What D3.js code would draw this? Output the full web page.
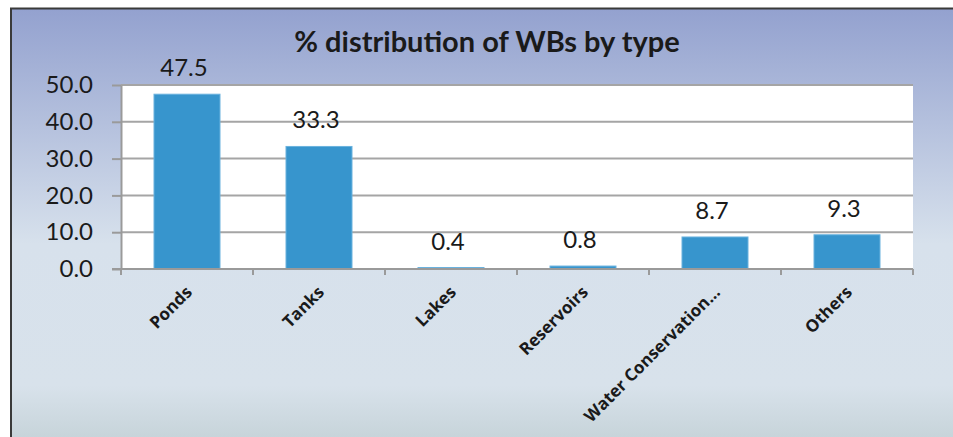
<!DOCTYPE html>
<html>
<head>
<meta charset="utf-8">
<script src="https://cdn.jsdelivr.net/npm/d3@7"></script>
<style>
  body { margin: 0; background: #fff; }
  svg { display: block; }
</style>
</head>
<body>
<svg id="chart"></svg>
<script>
var width = 953;
var height = 437;

var categories = ["Ponds", "Tanks", "Lakes", "Reservoirs", "Water Conservation...", "Others"];
var values = [47.5, 33.3, 0.4, 0.8, 8.7, 9.3];
var yTicks = [0, 10, 20, 30, 40, 50];
var title = "% distribution of WBs by type";

var plot = {left: 121, right: 913, top: 85, bottom: 269};

var svg = d3.select("#chart")
            .attr("width", width)
            .attr("height", height);

var defs = svg.append("defs");
var grad = defs.append("linearGradient")
               .attr("id", "bg")
               .attr("x1", 0).attr("y1", 0)
               .attr("x2", 0).attr("y2", 1);
grad.append("stop").attr("offset", "0%").attr("stop-color", "#93a1cf");
grad.append("stop").attr("offset", "55%").attr("stop-color", "#d7e1ec");
grad.append("stop").attr("offset", "88%").attr("stop-color", "#d8e2eb");
grad.append("stop").attr("offset", "100%").attr("stop-color", "#c7d4da");

// chart frame
svg.append("rect")
    .attr("x", 10)
    .attr("y", 8)
    .attr("width", width - 10)
    .attr("height", height - 8)
    .attr("fill", "url(#bg)");

svg.append("path")
    .attr("d", "M11," + height + "V8.5H" + width)
    .attr("fill", "none")
    .attr("stroke", "#3a3a3a")
    .attr("stroke-width", 2);

svg.append("rect")
    .attr("x", plot.left)
    .attr("y", plot.top)
    .attr("width", plot.right - plot.left)
    .attr("height", plot.bottom - plot.top)
    .attr("fill", "#fff");

var xScale = d3.scaleBand()
               .domain(categories)
               .range([plot.left, plot.right])
               .paddingInner(0.5)
               .paddingOuter(0.25);

var yScale = d3.scaleLinear()
               .domain([0, 50])
               .range([plot.bottom, plot.top]);

// gridlines
svg.append("g")
    .selectAll("line")
    .data(yTicks.filter(d => d > 0))
    .enter()
    .append("line")
      .attr("x1", plot.left)
      .attr("x2", plot.right)
      .attr("y1", d => yScale(d))
      .attr("y2", d => yScale(d))
      .attr("stroke", "#a5a5a5")
      .attr("stroke-width", 2);

// y axis
var yAxis = d3.axisLeft(yScale)
              .tickValues(yTicks)
              .tickSize(9)
              .tickSizeOuter(0)
              .tickPadding(19)
              .tickFormat(d3.format(".1f"));

var gy = svg.append("g")
    .attr("transform", "translate(" + plot.left + ",0)")
    .call(yAxis);
gy.select(".domain").attr("stroke", "#9a9a9a").attr("stroke-width", 2);
gy.selectAll(".tick line").attr("stroke", "#9a9a9a").attr("stroke-width", 2);
gy.selectAll(".tick text")
    .attr("fill", "#1a1a1a")
    .style("font-family", "Lato, 'Noto Sans', sans-serif")
    .style("font-size", "24px");

// bars
svg.append("g")
    .selectAll("rect")
    .data(values)
    .enter()
    .append("rect")
      .attr("x", (d, i) => xScale(categories[i]))
      .attr("y", d => yScale(d))
      .attr("width", xScale.bandwidth())
      .attr("height", d => plot.bottom - yScale(d))
      .attr("fill", "#3795cd")
      .attr("stroke", "#6ab2de")
      .attr("stroke-width", 1);

// value labels
svg.append("g")
    .selectAll("text")
    .data(values)
    .enter()
    .append("text")
      .attr("x", (d, i) => xScale(categories[i]) + xScale.bandwidth() / 2 - 3)
      .attr("y", d => yScale(d) - 18)
      .attr("text-anchor", "middle")
      .attr("fill", "#1a1a1a")
      .style("font-family", "Lato, 'Noto Sans', sans-serif")
      .style("font-size", "24px")
      .text(d => d.toFixed(1));

// x axis
var xEdges = d3.range(categories.length + 1).map(i => plot.left + i * (plot.right - plot.left) / categories.length);

svg.append("line")
    .attr("x1", plot.left - 9)
    .attr("x2", plot.right)
    .attr("y1", plot.bottom)
    .attr("y2", plot.bottom)
    .attr("stroke", "#9a9a9a")
    .attr("stroke-width", 2);

svg.append("g")
    .selectAll("line")
    .data(xEdges)
    .enter()
    .append("line")
      .attr("x1", d => d)
      .attr("x2", d => d)
      .attr("y1", plot.bottom)
      .attr("y2", plot.bottom + 6)
      .attr("stroke", "#9a9a9a")
      .attr("stroke-width", 2);

svg.append("g")
    .selectAll("text")
    .data(categories)
    .enter()
    .append("text")
      .attr("transform", d => "translate(" + (xScale(d) + xScale.bandwidth() / 2 + 2) + "," + (plot.bottom + 20) + ") rotate(-45)")
      .attr("text-anchor", "end")
      .attr("dy", "0.35em")
      .attr("fill", "#1a1a1a")
      .style("font-family", "'Open Sans', sans-serif")
      .style("font-weight", "bold")
      .style("font-size", "17px")
      .text(d => d);

// title
svg.append("text")
    .attr("x", 487)
    .attr("y", 52)
    .attr("text-anchor", "middle")
    .attr("fill", "#1a1a1a")
    .style("font-family", "Lato, 'Noto Sans', sans-serif")
    .style("font-weight", "bold")
    .style("font-size", "29px")
    .text(title);
</script>
</body>
</html>
